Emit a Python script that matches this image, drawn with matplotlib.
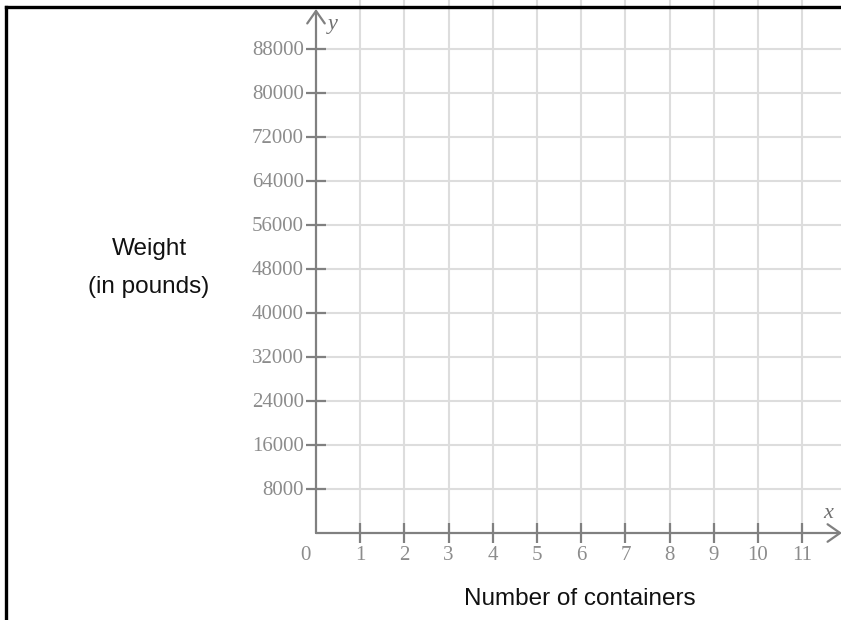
import matplotlib
matplotlib.use("Agg")
import matplotlib.pyplot as plt

x_ticks = [1, 2, 3, 4, 5, 6, 7, 8, 9, 10, 11]
y_ticks = [8000, 16000, 24000, 32000, 40000, 48000, 56000, 64000, 72000, 80000, 88000]
x_label = "Number of containers"
y_label = ["Weight", "(in pounds)"]

axis_col = "#808080"
grid_col = "#dddddd"
tick_font = "Liberation Serif"
label_font = "Liberation Sans"

fig = plt.figure(figsize=(8.41, 6.2), dpi=100)
ax = fig.add_axes([0, 0, 1, 1])
ax.set_axis_off()

# map data to pixels: x -> 316 + 44.2*x, y -> 533 - y*44/8000 (from top)
px_x = 44.2
px_y = 44 / 8000
ax.set_xlim(-316 / px_x, (841 - 316) / px_x)
ax.set_ylim((533 - 620) / px_y, 533 / px_y)

x_top = 533 / px_y
x_right = (841 - 316) / px_x

# grid
ax.vlines(x_ticks, 0, x_top, color=grid_col, lw=1.5, zorder=1)
ax.hlines(y_ticks, 0, x_right, color=grid_col, lw=1.5, zorder=1)

# axes with arrows
arrow = dict(arrowstyle="->,head_length=0.5,head_width=0.35", color=axis_col,
             lw=1.6, mutation_scale=18, shrinkA=0, shrinkB=0)
ax.annotate("", xy=((842 - 316) / px_x, 0), xytext=(0, 0), arrowprops=arrow,
            annotation_clip=False, zorder=3)
ax.annotate("", xy=(0, (533 - 9) / px_y), xytext=(0, 0), arrowprops=arrow,
            annotation_clip=False, zorder=3)

# tick marks
tx = 10 / px_x
ty = 10 / px_y
ax.vlines(x_ticks, -ty, ty, color=axis_col, lw=1.6, zorder=3)
ax.hlines(y_ticks, -tx, tx, color=axis_col, lw=1.6, zorder=3)

# tick labels
for v in x_ticks:
    ax.text(v, -23 / px_y, str(v), ha="center", va="center", color="#8c8c8c",
            fontsize=15, family=tick_font)
ax.text(-11 / px_x, -23 / px_y, "0", ha="center", va="center", color="#8c8c8c",
        fontsize=15, family=tick_font)
for v in y_ticks:
    ax.text(-12 / px_x, v - 1.5 / px_y, str(v), ha="right", va="center", color="#8c8c8c",
            fontsize=15, family=tick_font)

# axis letters
ax.text(17 / px_x, (533 - 24) / px_y, "y", ha="center", va="center", color="#707070",
        fontsize=16, family=tick_font, style="italic")
ax.text((828 - 316) / px_x, (533 - 513) / px_y, "x", ha="center", va="center",
        color="#707070", fontsize=16, family=tick_font, style="italic")

# axis titles
ax.text((149 - 316) / px_x, (533 - 249) / px_y, y_label[0], ha="center", va="center",
        fontsize=17.5, family=label_font, color="#111111")
ax.text((149 - 316) / px_x, (533 - 287) / px_y, y_label[1], ha="center", va="center",
        fontsize=17.5, family=label_font, color="#111111")
ax.text((580 - 316) / px_x, (533 - 599) / px_y, x_label, ha="center", va="center",
        fontsize=17.5, family=label_font, color="#111111")

# frame lines (top and left)
fig.add_artist(plt.Line2D([5.5 / 841, 1], [1 - 7 / 620, 1 - 7 / 620], color="black",
                          lw=2.4, transform=fig.transFigure))
fig.add_artist(plt.Line2D([5.5 / 841, 5.5 / 841], [0, 1 - 7 / 620], color="black",
                          lw=2.4, transform=fig.transFigure))

fig.savefig("out.png", dpi=100)
